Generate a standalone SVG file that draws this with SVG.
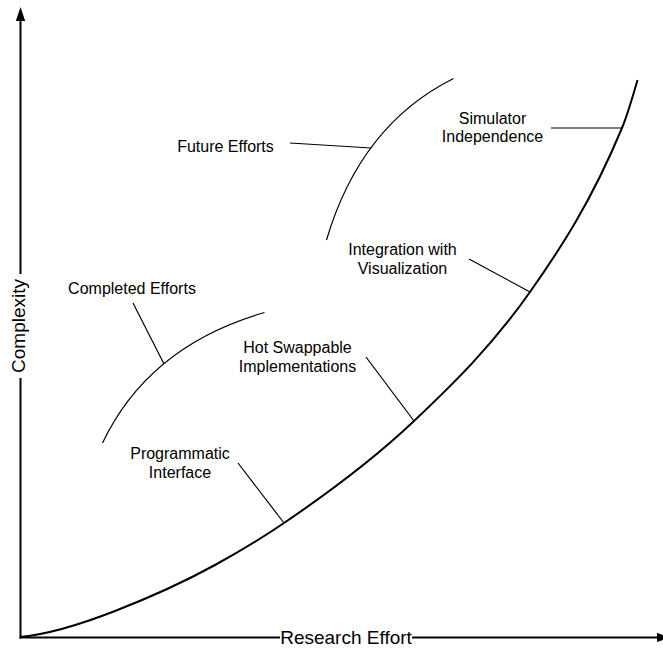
<svg xmlns="http://www.w3.org/2000/svg" width="663" height="649" viewBox="0 0 663 649">
<style>
text{font-family:"Liberation Sans",Arial,sans-serif;font-size:16px;fill:#000;text-anchor:middle}
.axlabel{font-size:19px}
.axis{stroke:#000;stroke-width:2;fill:none}
.curve{stroke:#000;stroke-width:2;fill:none}
.arc{stroke:#000;stroke-width:1.2;fill:none}
.lead{stroke:#000;stroke-width:1.2;fill:none}
</style>
<defs>
<marker id="arrow" markerUnits="userSpaceOnUse" markerWidth="14" markerHeight="10" refX="7" refY="4.7" orient="auto">
<path d="M0,0 L14,4.7 L0,9.4 z" fill="#000"/>
</marker>
</defs>
<rect width="663" height="649" fill="#fff"/>
<g id="axes">
<line class="axis" x1="20.5" y1="638.5" x2="20.5" y2="378"/>
<line class="axis" x1="20.5" y1="274" x2="20.5" y2="14" marker-end="url(#arrow)"/>
<line class="axis" x1="19.5" y1="637.5" x2="280" y2="637.5"/>
<line class="axis" x1="412" y1="637.5" x2="663.7" y2="637.5" marker-end="url(#arrow)"/>
<text id="xlabel" class="axlabel" x="346" y="644">Research Effort</text>
<text id="ylabel" class="axlabel" transform="translate(25,326) rotate(-90)" x="0" y="0">Complexity</text>
</g>
<g id="curve">
<path class="curve" d="M20.5,637 C52,633.85 83.5,623.3 115,611 C148.33,598 181.67,583.33 215,565 C238,552.35 261,538.64 284,523 C327.33,493.53 370.67,462.17 414,421 C452.67,384.27 491.33,346.91 530,292 C560.67,248.45 591.33,201.6 622,128 C627.17,115.6 632.33,98.1 637.5,80"/>
</g>
<g id="brackets">
<path id="future-arc" class="arc" d="M326.5,240 Q360.5,125 453.5,78.5"/>
<path id="completed-arc" class="arc" d="M102.5,443 Q148.5,346 264.5,312.5"/>
</g>
<g id="connectors">
<line class="lead" x1="290" y1="143" x2="371" y2="148"/>
<line class="lead" x1="133" y1="303" x2="164" y2="364"/>
<line class="lead" x1="551" y1="128" x2="622" y2="128"/>
<line class="lead" x1="469" y1="259" x2="530" y2="292"/>
<line class="lead" x1="366" y1="357" x2="414" y2="421"/>
<line class="lead" x1="238" y1="463" x2="284" y2="523"/>
</g>
<g id="future-efforts"><text x="225.5" y="152">Future Efforts</text></g>
<g id="completed-efforts"><text x="132" y="294">Completed Efforts</text></g>
<g id="simulator-independence"><text x="492.5" y="123.5">Simulator</text><text x="492.5" y="142">Independence</text></g>
<g id="integration-visualization"><text x="402.5" y="255">Integration with</text><text x="402.5" y="274">Visualization</text></g>
<g id="hot-swappable"><text x="297.5" y="352.5">Hot Swappable</text><text x="297.5" y="371.5">Implementations</text></g>
<g id="programmatic-interface"><text x="180" y="459">Programmatic</text><text x="180" y="478">Interface</text></g>
</svg>
